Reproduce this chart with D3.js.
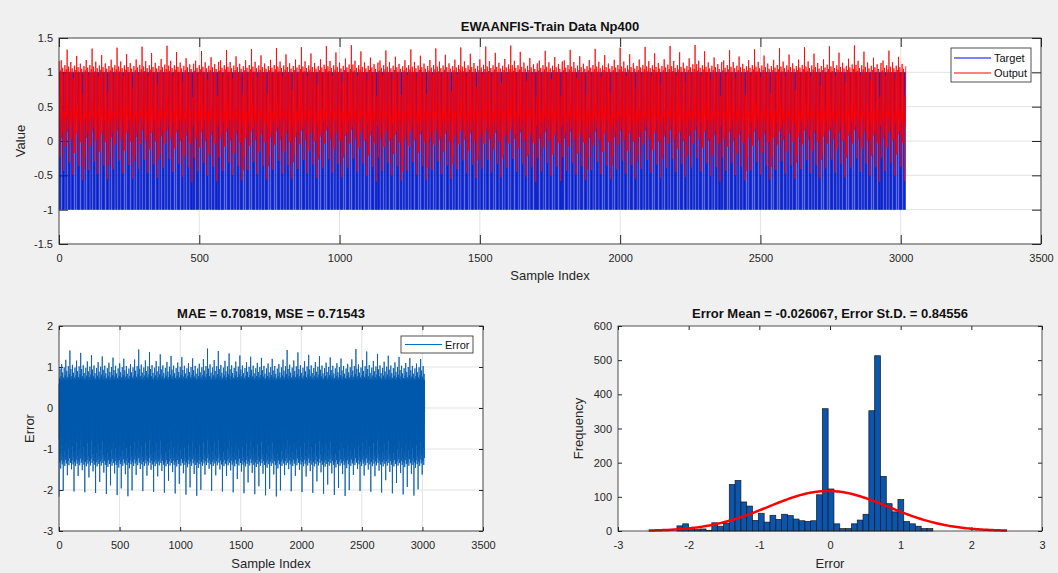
<!DOCTYPE html>
<meta charset="utf-8">
<head>
    <script src="https://cdn.jsdelivr.net/npm/d3@7/dist/d3.min.js"></script>
    <style>
        body { margin: 0; background: #f0f0f0; }
        svg { display: block; font-family: "Liberation Sans", Arial, sans-serif; }
        .tick text { font-size: 11px; fill: #262626; }
        .tick line { stroke: #262626; }
        .domain { display: none; }
        .grid line { stroke: #e3e3e3; }
        .title { font-size: 13px; font-weight: bold; fill: #111; text-anchor: middle; }
        .label { font-size: 13px; fill: #262626; text-anchor: middle; }
        .leg { font-size: 11px; fill: #111; }
    </style>
</head>
<body>
<script type="text/javascript">

    // histogram of the error (bin counts)
    var binLo = -2.166;
    var binHi = 1.455;
    var binCounts = [15, 21, 7, 4, 6, 2, 24, 14, 23, 136, 148, 85, 73, 31, 52, 26, 46, 34, 49, 45, 35, 30,
        28, 30, 106, 358, 123, 21, 7, 7, 21, 32, 49, 352, 513, 160, 80, 56, 92, 28, 21, 14, 7, 7];

    // fitted normal curve (from the panel title) and its drawn range
    var errMean = -0.026067;
    var errStd = 0.84556;
    var curveRange = [-2.566, 2.505];

    var titleTop = "EWAANFIS-Train Data Np400";
    var titleErr = "MAE = 0.70819, MSE = 0.71543";
    var titleHist = "Error Mean = -0.026067, Error St.D. = 0.84556";

    // tick labels
    var sampleTicks = [0, 500, 1000, 1500, 2000, 2500, 3000, 3500];
    var valueTicks = [-1.5, -1, -0.5, 0, 0.5, 1, 1.5];
    var errorTicks = [-3, -2, -1, 0, 1, 2];
    var histXTicks = [-3, -2, -1, 0, 1, 2, 3];
    var freqTicks = [0, 100, 200, 300, 400, 500, 600];

    var width = 1058;
    var height = 573;

    var svg = d3.select("body")
        .append("svg")
        .attr("width", width)
        .attr("height", height);

    svg.append("rect").attr("width", width).attr("height", height).attr("fill", "#f0f0f0");

    // ---- build the sample series from the histogram values ----
    var binW = (binHi - binLo) / binCounts.length;
    var sorted = [];
    binCounts.forEach(function (c, k) {
        for (var j = 0; j < c; j++) {
            sorted.push(binLo + binW * (k + (j + 0.5) / c));
        }
    });
    var N = sorted.length;
    function gcd(a, b) { return b ? gcd(b, a % b) : a; }
    var stride = Math.round(N * 0.618);
    while (gcd(stride, N) !== 1) stride++;

    var errorSeries = [];
    var targetSeries = [];
    var outputSeries = [];
    for (var p = 0; p < N; p++) {
        var e = sorted[(p * stride) % N];
        var t = e < -0.4 ? -1 : 1;
        errorSeries.push({i: p + 1, v: e});
        targetSeries.push({i: p + 1, v: t});
        outputSeries.push({i: p + 1, v: t - e});
    }

    // ---- axes helper (MATLAB style box, inward ticks) ----
    function makeAxes(box, x, y, xt, yt, tick, grid) {
        var g = svg.append("g");
        g.append("rect")
            .attr("x", box.l).attr("y", box.t)
            .attr("width", box.r - box.l).attr("height", box.b - box.t)
            .attr("fill", "white");
        if (grid) {
            g.append("g").attr("class", "grid")
                .selectAll("line").data(xt).enter().append("line")
                .attr("x1", x).attr("x2", x).attr("y1", box.t).attr("y2", box.b);
            g.append("g").attr("class", "grid")
                .selectAll("line").data(yt).enter().append("line")
                .attr("y1", y).attr("y2", y).attr("x1", box.l).attr("x2", box.r);
        }
        var fmt = function (d) { return String(d); };
        g.append("g").attr("transform", "translate(0," + box.b + ")")
            .call(d3.axisBottom(x).tickValues(xt).tickSize(-tick).tickPadding(10).tickFormat(fmt));
        g.append("g").attr("transform", "translate(0," + box.t + ")")
            .call(d3.axisTop(x).tickValues(xt).tickSize(-tick).tickFormat(""));
        g.append("g").attr("transform", "translate(" + box.l + ",0)")
            .call(d3.axisLeft(y).tickValues(yt).tickSize(-tick).tickPadding(6).tickFormat(fmt));
        g.append("g").attr("transform", "translate(" + box.r + ",0)")
            .call(d3.axisRight(y).tickValues(yt).tickSize(-tick).tickFormat(""));
        return g;
    }
    function frame(box) {
        svg.append("rect")
            .attr("x", box.l).attr("y", box.t)
            .attr("width", box.r - box.l).attr("height", box.b - box.t)
            .attr("fill", "none").attr("stroke", "#262626").attr("stroke-width", 0.8);
    }

    // ---- top panel ----
    var topBox = {l: 59, r: 1041, t: 38, b: 244};
    var xTop = d3.scaleLinear().domain([0, 3500]).range([topBox.l, topBox.r]);
    var yTop = d3.scaleLinear().domain([-1.5, 1.5]).range([topBox.b, topBox.t]);
    makeAxes(topBox, xTop, yTop, sampleTicks, valueTicks, 9, true);

    var lineTop = d3.line().x(function (d) { return xTop(d.i); }).y(function (d) { return yTop(d.v); });
    svg.append("path").datum(targetSeries)
        .attr("d", lineTop).attr("fill", "none").attr("stroke", "#0018c8").attr("stroke-width", 0.7);
    svg.append("path").datum(outputSeries)
        .attr("d", lineTop).attr("fill", "none").attr("stroke", "#ff0000").attr("stroke-width", 0.8);
    frame(topBox);

    svg.append("text").attr("class", "title").attr("x", (topBox.l + topBox.r) / 2).attr("y", 31).text(titleTop);
    svg.append("text").attr("class", "label").attr("x", (topBox.l + topBox.r) / 2).attr("y", 280).text("Sample Index");
    svg.append("text").attr("class", "label")
        .attr("transform", "translate(25," + (topBox.t + topBox.b) / 2 + ") rotate(-90)").text("Value");

    var legTop = svg.append("g");
    legTop.append("rect").attr("x", 951).attr("y", 48).attr("width", 80).attr("height", 34)
        .attr("fill", "white").attr("stroke", "#262626").attr("stroke-width", 0.8);
    [["Target", "#0000ff", 58], ["Output", "#ff0000", 73]].forEach(function (r) {
        legTop.append("line").attr("x1", 954).attr("x2", 991).attr("y1", r[2]).attr("y2", r[2])
            .attr("stroke", r[1]).attr("stroke-width", 1);
        legTop.append("text").attr("class", "leg").attr("x", 994).attr("y", r[2] + 4).text(r[0]);
    });

    // ---- bottom-left panel: error ----
    var bl = {l: 59, r: 483, t: 326, b: 531};
    var xErr = d3.scaleLinear().domain([0, 3500]).range([bl.l, bl.r]);
    var yErr = d3.scaleLinear().domain([-3, 2]).range([bl.b, bl.t]);
    makeAxes(bl, xErr, yErr, sampleTicks, errorTicks, 4, true);

    svg.append("path").datum(errorSeries)
        .attr("d", d3.line().x(function (d) { return xErr(d.i); }).y(function (d) { return yErr(d.v); }))
        .attr("fill", "none").attr("stroke", "#0058ac").attr("stroke-width", 0.8);
    frame(bl);

    svg.append("text").attr("class", "title").attr("x", (bl.l + bl.r) / 2).attr("y", 318).text(titleErr);
    svg.append("text").attr("class", "label").attr("x", (bl.l + bl.r) / 2).attr("y", 568).text("Sample Index");
    svg.append("text").attr("class", "label")
        .attr("transform", "translate(34," + (bl.t + bl.b) / 2 + ") rotate(-90)").text("Error");

    var legErr = svg.append("g");
    legErr.append("rect").attr("x", 401).attr("y", 336).attr("width", 72).attr("height", 17)
        .attr("fill", "white").attr("stroke", "#262626").attr("stroke-width", 0.8);
    legErr.append("line").attr("x1", 405).attr("x2", 442).attr("y1", 344.5).attr("y2", 344.5)
        .attr("stroke", "#0072bd").attr("stroke-width", 1.2);
    legErr.append("text").attr("class", "leg").attr("x", 445).attr("y", 348.5).text("Error");

    // ---- bottom-right panel: histogram ----
    var br = {l: 618, r: 1042, t: 326, b: 531};
    var xH = d3.scaleLinear().domain([-3, 3]).range([br.l, br.r]);
    var yH = d3.scaleLinear().domain([0, 600]).range([br.b, br.t]);
    makeAxes(br, xH, yH, histXTicks, freqTicks, 4, false);

    svg.append("g").selectAll("rect").data(binCounts).enter().append("rect")
        .attr("x", function (d, k) { return xH(binLo + k * binW); })
        .attr("width", function (d, k) { return xH(binLo + (k + 1) * binW) - xH(binLo + k * binW); })
        .attr("y", function (d) { return yH(d); })
        .attr("height", function (d) { return yH(0) - yH(d); })
        .attr("fill", "#0a55ad").attr("stroke", "#1a1a1a").attr("stroke-width", 0.7);

    var scaleN = N * binW;
    var curvePts = d3.range(0, 201).map(function (k) {
        var xv = curveRange[0] + (curveRange[1] - curveRange[0]) * k / 200;
        var z = (xv - errMean) / errStd;
        return [xv, scaleN * Math.exp(-0.5 * z * z) / (errStd * Math.sqrt(2 * Math.PI))];
    });
    svg.append("path").datum(curvePts)
        .attr("d", d3.line().x(function (d) { return xH(d[0]); }).y(function (d) { return yH(d[1]); }))
        .attr("fill", "none").attr("stroke", "#ff0000").attr("stroke-width", 2.5);
    frame(br);

    svg.append("text").attr("class", "title").attr("x", (br.l + br.r) / 2).attr("y", 318).text(titleHist);
    svg.append("text").attr("class", "label").attr("x", (br.l + br.r) / 2).attr("y", 568).text("Error");
    svg.append("text").attr("class", "label")
        .attr("transform", "translate(583," + (br.t + br.b) / 2 + ") rotate(-90)").text("Frequency");

</script>
</body>
</html>
